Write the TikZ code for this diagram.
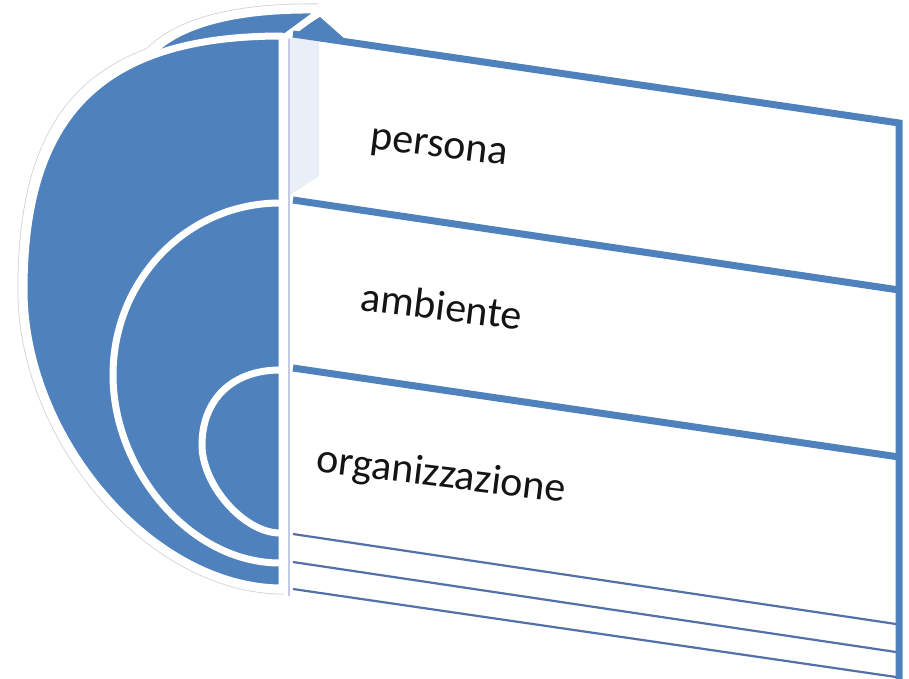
\documentclass[tikz,border=0pt]{standalone}
\usepackage{fontspec}
\setmainfont{Carlito}
\definecolor{accblue}{HTML}{4F81BD}
\definecolor{thinblue}{RGB}{84,112,168}
\definecolor{sidecol}{RGB}{234,238,247}
\definecolor{edgecol}{RGB}{196,202,228}
\begin{document}
\begin{tikzpicture}[x=1pt,y=-1pt,
  halo/.style={draw=gray!35,line width=13pt},
  haloin/.style={draw=white,line width=11.4pt},
  bluebody/.style={fill=accblue,draw=white,line width=7pt,line join=round},
  ring/.style={draw=white,line width=7pt},
  thickln/.style={draw=accblue,line width=7pt,line join=miter},
  thinln/.style={draw=thinblue,line width=2.2pt},
  lbl/.style={font=\fontsize{42}{50}\selectfont,text=black!92,anchor=base,rotate=-7,inner sep=0pt}]
\useasboundingbox (0,0) rectangle (909,678);
\fill[white] (0,0) rectangle (909,678);

% faint outer outline with white halo
\draw[halo] (318,10) .. controls (225,9) and (175,28) .. (150,54)
  .. controls (62,86) and (24,160) .. (24,290)
  .. controls (24,438) and (152,588) .. (284,588);
\draw[haloin] (318,10) .. controls (225,9) and (175,28) .. (150,54)
  .. controls (62,86) and (24,160) .. (24,290)
  .. controls (24,438) and (152,588) .. (284,588);

% side face of the upper box and its front-left edge
\fill[sidecol] (290,39) -- (319,19) -- (319,176) -- (290,195) -- cycle;
\draw[edgecol,line width=1.5pt] (289,38) -- (289,596);

% top face wedge of the box
\fill[accblue] (292,34) -- (320,17) -- (346,40) -- cycle;

% top cap of the half disc
\path[bluebody] (150,54) .. controls (175,28) and (225,9) .. (316,10)
  -- (318,13) -- (286,36.5) -- (230,42) -- (160,60) -- cycle;

% front face of the half disc
\path[bluebody] (282,36) .. controls (103,36) and (24,113) .. (24,290)
  .. controls (24,438) and (152,588) .. (282,588) -- cycle;

% inner rings
\draw[ring] (280,203) .. controls (187,203) and (113,280) .. (113,375)
  .. controls (113,470) and (190,563) .. (280,563);
\draw[ring] (280,370) .. controls (232,370) and (202,400) .. (202,445)
  .. controls (202,485) and (244,533) .. (280,533);

% box edges
\draw[thickln] (293,34) -- (899,123) -- (899,682);
\draw[thickln] (293,200) -- (899,290);
\draw[thickln] (293,368) -- (899,457);
\draw[thinln] (293,534) -- (896,624);
\draw[thinln] (293,562) -- (896,652);
\draw[thinln] (293,589) -- (896,677);

% labels
\node[lbl] (persona) at (438,157) {persona};
\node[lbl] (ambiente) at (440,320) {ambiente};
\node[lbl] (organizzazione) at (440,487) {organizzazione};
\end{tikzpicture}
\end{document}
